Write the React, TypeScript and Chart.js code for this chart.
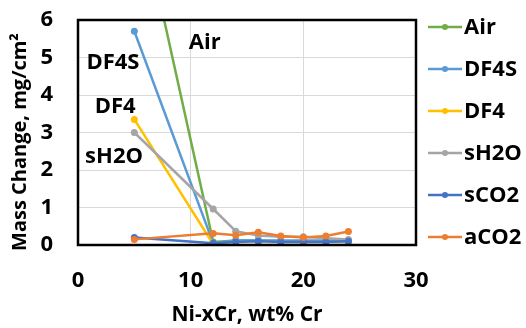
import React, { useEffect, useRef } from "react";
import { Chart, registerables } from "chart.js";

Chart.register(...registerables);

const xValues = [5, 12, 14, 16, 18, 20, 22, 24];
const seriesNames = ["Air", "DF4S", "DF4", "sH2O", "sCO2", "aCO2"];
const airValues = [9.6, 0.08, 0.12, 0.12, 0.1, 0.1, 0.1, 0.1];
const df4sValues = [5.7, 0.05, 0.12, 0.12, 0.12, 0.12, 0.12, 0.12];
const df4Values = [3.35, 0.02, 0.0, 0.0, 0.0, 0.0, 0.0, 0.0];
const sh2oValues = [3.0, 0.96, 0.37, 0.25, 0.22, 0.22, 0.18, 0.15];
const sco2Values = [0.2, 0.05, 0.08, 0.1, 0.08, 0.08, 0.08, 0.1];
const aco2Values = [0.15, 0.31, 0.26, 0.34, 0.24, 0.2, 0.24, 0.36];
const colors = ["#70AD47", "#5B9BD5", "#FFC000", "#A5A5A5", "#4472C4", "#ED7D31"];
const xTicks = [0, 10, 20, 30];
const yTicks = [0, 1, 2, 3, 4, 5, 6];
// in-plot series labels (data coordinates)
const noteTexts = ["Air", "DF4S", "DF4", "sH2O"];
const noteX = [11.25, 3.1, 3.3, 3.2];
const noteY = [5.39, 4.85, 3.68, 2.35];

const FONT = "'Open Sans', sans-serif";

export default function App() {
  const ref = useRef<HTMLCanvasElement>(null);
  useEffect(() => {
    document.body.style.margin = "0";
    const all = [airValues, df4sValues, df4Values, sh2oValues, sco2Values, aco2Values];
    const datasets = all.map((vals, i) => ({
      label: seriesNames[i],
      data: vals.map((v, j) => ({ x: xValues[j], y: v })),
      borderColor: colors[i],
      backgroundColor: colors[i],
      borderWidth: 2.5,
      pointRadius: 3.5,
      pointBorderWidth: 0,
      showLine: true,
      order: 5 - i,
    }));

    const framePlugin = {
      id: "frame",
      afterDatasetsDraw(chart: any) {
        const { ctx, chartArea: a } = chart;
        ctx.save();
        ctx.strokeStyle = "#000";
        ctx.lineWidth = 2.5;
        ctx.strokeRect(a.left, a.top, a.right - a.left, a.bottom - a.top);
        ctx.restore();
      },
      afterDraw(chart: any) {
        const { ctx, chartArea: a, scales } = chart;
        ctx.save();
        // notes
        ctx.fillStyle = "#000";
        ctx.font = `bold 22px ${FONT}`;
        ctx.textAlign = "center";
        ctx.textBaseline = "middle";
        noteTexts.forEach((t, i) => {
          ctx.fillText(t, scales.x.getPixelForValue(noteX[i]), scales.y.getPixelForValue(noteY[i]));
        });
        // legend
        const ds = chart.data.datasets;
        ds.forEach((d: any, i: number) => {
          const y = 27 + i * 42;
          const x0 = a.right + 12;
          ctx.strokeStyle = d.borderColor;
          ctx.lineWidth = 2.5;
          ctx.beginPath();
          ctx.moveTo(x0, y);
          ctx.lineTo(x0 + 34, y);
          ctx.stroke();
          ctx.fillStyle = d.borderColor;
          ctx.beginPath();
          ctx.arc(x0 + 17, y, 3, 0, Math.PI * 2);
          ctx.fill();
          ctx.fillStyle = "#000";
          ctx.textAlign = "left";
          ctx.font = `bold 22px ${FONT}`;
          ctx.fillText(d.label, x0 + 36, y + 1);
        });
        // y title
        ctx.translate(20, 142);
        ctx.rotate(-Math.PI / 2);
        ctx.textAlign = "center";
        ctx.font = `bold 20px ${FONT}`;
        ctx.fillText("Mass Change, mg/cm²", 0, 0);
        ctx.restore();
      },
    };

    const chart = new Chart(ref.current!, {
      type: "scatter",
      data: { datasets },
      options: {
        animation: false,
        responsive: false,
        layout: { padding: { top: 20, right: 110, left: 0, bottom: 0 } },
        plugins: { legend: { display: false }, tooltip: { enabled: false } },
        scales: {
          x: {
            type: "linear",
            min: 0,
            max: 30,
            afterBuildTicks: (s: any) => { s.ticks = xTicks.map((v) => ({ value: v })); },
            afterFit: (s: any) => { s.height = 83; s.paddingLeft = 0; s.paddingRight = 0; },
            grid: { color: "#d9d9d9", drawTicks: false, lineWidth: 1 },
            border: { display: false },
            ticks: { color: "#000", font: { family: FONT, size: 22, weight: "bold" }, padding: 23, maxRotation: 0 },
            title: {
              display: true,
              text: "Ni-xCr, wt% Cr",
              color: "#000",
              font: { family: FONT, size: 21, weight: "bold" },
              padding: { top: 3, bottom: 0 },
            },
          },
          y: {
            type: "linear",
            min: 0,
            max: 6,
            afterBuildTicks: (s: any) => { s.ticks = yTicks.map((v) => ({ value: v })); },
            afterFit: (s: any) => { s.width = 78; s.paddingTop = 0; s.paddingBottom = 0; },
            grid: { color: "#d9d9d9", drawTicks: false, lineWidth: 1 },
            border: { display: false },
            ticks: { color: "#000", font: { family: FONT, size: 22, weight: "bold" }, padding: 25 },
          },
        },
      },
      plugins: [framePlugin],
    } as any);
    return () => chart.destroy();
  }, []);
  return <canvas ref={ref} width={526} height={328} style={{ display: "block" }} />;
}
